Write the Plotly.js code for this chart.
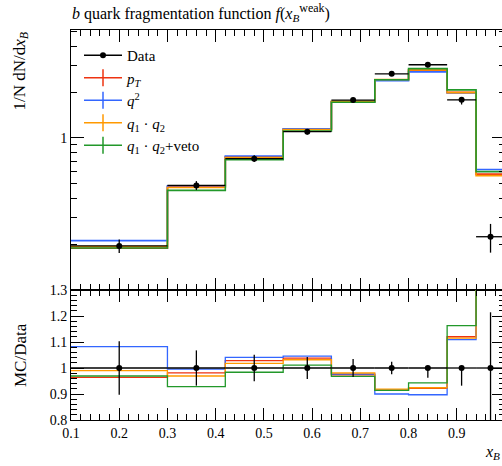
<!DOCTYPE html>
<html><head><meta charset="utf-8">
<script src="https://cdn.plot.ly/plotly-3.0.1.min.js"></script>
<style>html,body{margin:0;padding:0;overflow:hidden;background:#fff}#plot{width:506px;height:466px}</style>
</head><body><div id="plot"></div>
<script>
// ---- data ----
const binEdges  = [0.1, 0.3, 0.42, 0.54, 0.64, 0.73, 0.80, 0.88, 0.94, 1.0];
const dataVals  = [0.195, 0.487, 0.731, 1.10, 1.775, 2.64, 3.03, 1.78, 0.224];
const dataErrUp = [0.020, 0.033, 0.037, 0.047, 0.062, 0.063, 0.015, 0.009, 0.048];
const dataErrDn = [0.020, 0.033, 0.037, 0.047, 0.062, 0.063, 0.115, 0.121, 0.048];
const mcPt   = [0.188, 0.478, 0.752, 1.142, 1.729, 2.416, 2.794, 1.994, 0.578];
const mcQ2   = [0.211, 0.485, 0.761, 1.150, 1.734, 2.376, 2.718, 1.974, 0.620];
const mcQ1Q2 = [0.193, 0.472, 0.744, 1.135, 1.741, 2.426, 2.800, 1.985, 0.565];
const mcVeto = [0.189, 0.452, 0.719, 1.112, 1.718, 2.413, 2.857, 2.070, 0.600];
const seriesNames = ['<i>p</i><sub><i>T</i></sub>', '<i>q</i><sup>2</sup>',
  '<i>q</i><sub>1</sub> · <i>q</i><sub>2</sub>', '<i>q</i><sub>1</sub> · <i>q</i><sub>2</sub>+veto'];
const seriesColors = ['#ee3311', '#3366ff', '#ff9900', '#22982a'];
const seriesVals = [mcPt, mcQ2, mcQ1Q2, mcVeto];
const titleText = '<i>b</i> quark fragmentation function <i>f</i>(<i>x</i><sub><i>B</i></sub><sup><span style="font-size:12px">weak</span></sup>)';
const yTitleTop = '1/N dN/d<i>x</i><sub><i>B</i></sub>';
const yTitleRatio = 'MC/Data';
const xTitle = '<i>x</i><sub><i>B</i></sub>';

// ---- derived ----
const centers = dataVals.map((_, i) => (binEdges[i] + binEdges[i + 1]) / 2);
const halfW = dataVals.map((_, i) => (binEdges[i + 1] - binEdges[i]) / 2);
const FONT = 'Liberation Serif, serif';

const traces = [];
seriesVals.forEach((vals, k) => {
  traces.push({x: binEdges, y: vals.concat([vals[vals.length - 1]]), type: 'scatter', mode: 'lines',
    line: {shape: 'hv', color: seriesColors[k], width: 1.6}, xaxis: 'x', yaxis: 'y', showlegend: false, hoverinfo: 'skip'});
  const ratio = vals.map((v, i) => v / dataVals[i]);
  traces.push({x: binEdges, y: ratio.concat([ratio[ratio.length - 1]]), type: 'scatter', mode: 'lines',
    line: {shape: 'hv', color: seriesColors[k], width: 1.3}, xaxis: 'x2', yaxis: 'y2', showlegend: false, hoverinfo: 'skip'});
});
// data
traces.push({x: centers, y: dataVals, type: 'scatter', mode: 'markers', xaxis: 'x', yaxis: 'y',
  marker: {color: 'black', size: 6}, showlegend: false,
  error_x: {type: 'data', array: halfW, color: 'black', thickness: 1.3, width: 0},
  error_y: {type: 'data', symmetric: false, array: dataErrUp, arrayminus: dataErrDn, color: 'black', thickness: 1.3, width: 0}});
traces.push({x: centers, y: dataVals.map(() => 1), type: 'scatter', mode: 'markers', xaxis: 'x2', yaxis: 'y2',
  marker: {color: 'black', size: 6}, showlegend: false,
  error_x: {type: 'data', array: halfW, color: 'black', thickness: 1.3, width: 0},
  error_y: {type: 'data', symmetric: false, array: dataErrUp.map((e, i) => e / dataVals[i]),
    arrayminus: dataErrDn.map((e, i) => e / dataVals[i]), color: 'black', thickness: 1.3, width: 0}});
// legend entries
traces.push({x: [null], y: [null], type: 'scatter', mode: 'lines+markers', name: 'Data',
  line: {color: 'black', width: 1.5}, marker: {color: 'black', size: 6}, xaxis: 'x', yaxis: 'y'});
seriesNames.forEach((n, k) => traces.push({x: [null], y: [null], type: 'scatter', mode: 'lines+markers', name: n,
  line: {color: seriesColors[k], width: 1.5}, marker: {color: seriesColors[k], symbol: 'line-ns-open', size: 12, line: {width: 1.5, color: seriesColors[k]}},
  xaxis: 'x', yaxis: 'y'}));

const common = {ticks: 'inside', showline: true, linecolor: 'black', linewidth: 1, mirror: 'ticks',
  tickcolor: 'black', showgrid: false, zeroline: false, tickfont: {family: FONT, size: 14, color: 'black'}};

const layout = {
  width: 506, height: 466, margin: {l: 71, r: 1, t: 30, b: 46},
  paper_bgcolor: 'white', plot_bgcolor: 'white', font: {family: FONT, color: 'black'},
  title: {text: titleText, font: {family: FONT, size: 16, color: 'black'}, xref: 'container', yref: 'container',
    x: 72 / 506, xanchor: 'left', y: 1 - 13 / 466, yanchor: 'middle'},
  xaxis: Object.assign({}, common, {domain: [0, 1], anchor: 'y', range: [0.1, 1.0], showticklabels: false,
    tick0: 0, dtick: 0.1, ticklen: 12, minor: {ticks: 'inside', ticklen: 6, dtick: 0.02, tick0: 0, tickcolor: 'black', showgrid: false}}),
  yaxis: Object.assign({}, common, {domain: [0.3334, 1], anchor: 'x', type: 'log', range: [-1.0, 0.71],
    tickmode: 'array', tickvals: [1], ticktext: ['1'], ticklen: 13,
    minor: {ticks: 'inside', ticklen: 6, tickmode: 'array', tickvals: [0.2, 0.3, 0.4, 0.5, 0.6, 0.7, 0.8, 0.9, 2, 3, 4, 5], tickcolor: 'black', showgrid: false}}),
  xaxis2: Object.assign({}, common, {domain: [0, 1], anchor: 'y2', range: [0.1, 1.0],
    tick0: 0, dtick: 0.1, ticklen: 12, minor: {ticks: 'inside', ticklen: 6, dtick: 0.02, tick0: 0, tickcolor: 'black', showgrid: false}}),
  yaxis2: Object.assign({}, common, {domain: [0, 0.3333], anchor: 'x2', range: [0.8, 1.3],
    tick0: 0, dtick: 0.1, ticklen: 13, minor: {ticks: 'inside', ticklen: 6, dtick: 0.02, tick0: 0, tickcolor: 'black', showgrid: false}}),
  legend: {x: (79 - 71) / 434, y: (420 - 39) / 390, xanchor: 'left', yanchor: 'top', bgcolor: 'rgba(0,0,0,0)',
    font: {family: FONT, size: 15, color: 'black'}, tracegroupgap: 0, itemwidth: 38},
  annotations: [
    {text: yTitleTop, textangle: -90, xref: 'paper', yref: 'paper', x: (20 - 71) / 434, y: 1, xanchor: 'center', yanchor: 'top',
      showarrow: false, font: {family: FONT, size: 17, color: 'black'}},
    {text: yTitleRatio, textangle: -90, xref: 'paper', yref: 'paper', x: (20 - 71) / 434, y: 65 / 390, xanchor: 'center', yanchor: 'middle',
      showarrow: false, font: {family: FONT, size: 17, color: 'black'}},
    {text: xTitle, xref: 'paper', yref: 'paper', x: (492 - 71) / 434, y: (420 - 452) / 390, xanchor: 'center', yanchor: 'middle',
      showarrow: false, font: {family: FONT, size: 16, color: 'black'}}
  ]
};
Plotly.newPlot('plot', traces, layout, {displayModeBar: false, staticPlot: true});
</script></body></html>
